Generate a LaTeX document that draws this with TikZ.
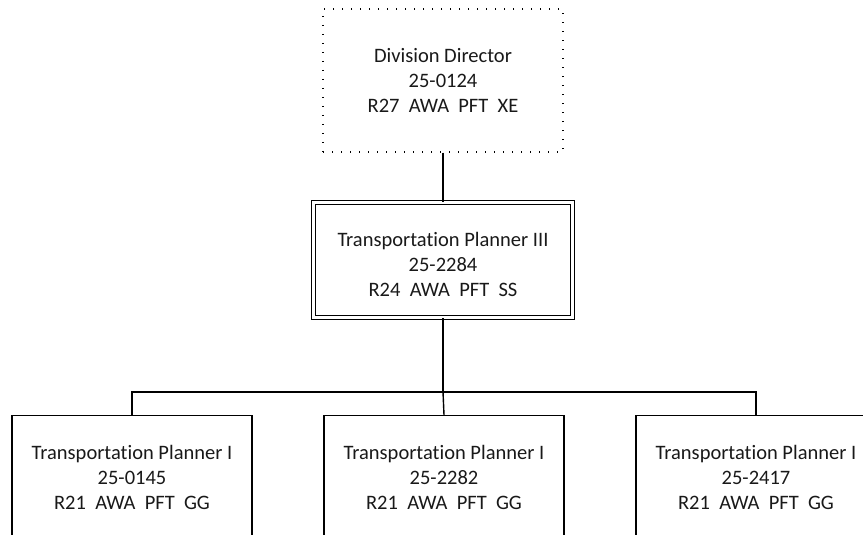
\documentclass[tikz,border=0pt]{standalone}
\usepackage{fontspec}
\setmainfont[Ligatures=NoCommon]{Carlito}
\begin{document}
\begin{tikzpicture}[x=1pt,y=-1pt,
  line width=1.4pt,
  txt/.style={font=\fontsize{20.5}{25}\selectfont, align=center, text=black!90},
  box/.style={draw, rectangle, txt, minimum width=240pt, inner sep=0pt},
  dotbox/.style={box, line width=1.4pt, dash pattern=on 1.4pt off 7.6pt},
  dblbox/.style={draw, rectangle, txt, double, double distance=3pt, line width=1.2pt, minimum width=259pt, minimum height=115pt, inner sep=0pt},
  conn/.style={draw, line width=1.4pt}]
\useasboundingbox (0,0) rectangle (863,535);
\clip (0,0) rectangle (863,535);
\node[dotbox, minimum height=143pt] (dd) at (443,80.5) {Division Director\\25-0124\\R27\ \ AWA\ \ PFT\ \ XE};
\node[dblbox] (tp3) at (443,260) {};
\node[txt] (tp3t) at (443,264.5) {Transportation Planner III\\25-2284\\R24\ \ AWA\ \ PFT\ \ SS};
\node[box, minimum height=132pt] (tp1a) at (132,481.5) {};
\node[box, minimum height=132pt] (tp1b) at (444,481.5) {};
\node[box, minimum height=132pt] (tp1c) at (756,481.5) {};
\node[txt] (tp1at) at (132,477) {Transportation Planner I\\25-0145\\R21\ \ AWA\ \ PFT\ \ GG};
\node[txt] (tp1bt) at (444,477) {Transportation Planner I\\25-2282\\R21\ \ AWA\ \ PFT\ \ GG};
\node[txt] (tp1ct) at (756,477) {Transportation Planner I\\25-2417\\R21\ \ AWA\ \ PFT\ \ GG};
\coordinate (bus) at (443,392);
\draw[conn] (dd.south) -- (tp3.north);
\draw[conn] (tp3.south) -- (bus);
\draw[conn] (tp1a.north) |- (bus) -| (tp1c.north);
\draw[conn] (bus) -- (tp1b.north);
\end{tikzpicture}
\end{document}
